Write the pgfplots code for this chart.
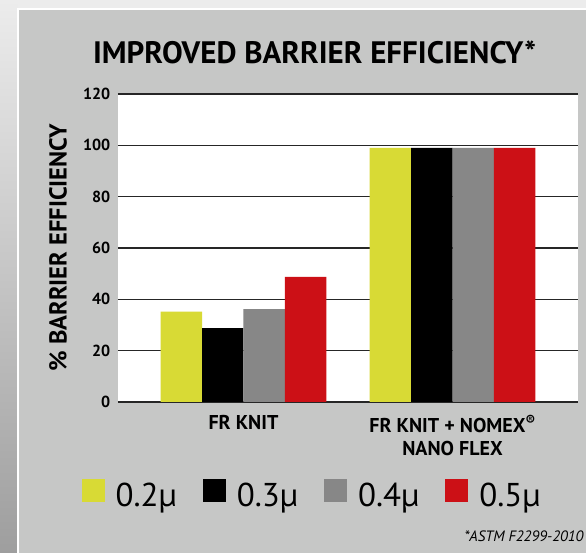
\documentclass[border=0pt]{standalone}
\usepackage{pgfplots}
\pgfplotsset{compat=1.18}
\usepackage{fontspec}
\setmainfont{PT Sans}
\newfontfamily\condfont{PT Sans}
\definecolor{cyel}{HTML}{D8DA35}
\definecolor{cblk}{HTML}{000000}
\definecolor{cgry}{HTML}{878787}
\definecolor{cred}{HTML}{CC1016}
\definecolor{panel}{HTML}{C6C7C6}
\definecolor{outer}{HTML}{ECECEC}
\definecolor{gridc}{HTML}{262626}
\begin{document}
\begin{tikzpicture}
\useasboundingbox (0pt,0pt) rectangle (586pt,553pt);
\fill[outer] (0pt,0pt) rectangle (586pt,553pt);
\shade[top color=outer, bottom color=black!38] (0pt,0pt) rectangle (17pt,553pt);
\fill[panel] (17pt,0pt) rectangle (586pt,545pt);
\draw[white, line width=2pt] (18pt,0pt) -- (18pt,544pt) -- (586pt,544pt);
\node[anchor=base, font=\condfont\bfseries\fontsize{31}{31}\selectfont] at (314.5pt,489pt) {IMPROVED BARRIER EFFICIENCY*};
\node[anchor=base east, font=\condfont\itshape\fontsize{15}{15}\selectfont] at (587pt,11.5pt) {*ASTM F2299-2010};
\begin{axis}[
  at={(118pt,151pt)}, anchor=south west,
  width=460pt, height=308pt, scale only axis,
  axis background/.style={fill=white},
  ybar=0pt, bar width=0.198,
  xmin=-0.6, xmax=1.6, ymin=0, ymax=120,
  ytick={0,20,40,60,80,100,120},
  xtick={0,1},
  xticklabels={FR KNIT, {FR KNIT + NOMEX\textsuperscript{®}\\NANO FLEX}},
  ymajorgrids,
  grid style={color=gridc, line width=1.1pt},
  axis line style={draw=none},
  tick style={draw=none},
  major tick length=0pt,
  /pgf/number format/assume math mode=true,
  yticklabel style={font=\condfont\bfseries\fontsize{16}{16}\selectfont, inner sep=0pt, xshift=-7.5pt},
  xticklabel style={font=\condfont\bfseries\fontsize{20}{23}\selectfont, align=center, inner sep=0pt, anchor=north, yshift=-13pt},
  ylabel={\% BARRIER EFFICIENCY},
  ylabel style={font=\condfont\bfseries\fontsize{24.5}{24.5}\selectfont, at={(axis description cs:-0.1304,0.5)}, anchor=center},
  legend columns=4,
  legend style={at={(axis description cs:0.42,-0.297)}, anchor=center, draw=none, fill=none,
    font=\fontsize{33}{33}\selectfont, inner sep=0pt, nodes={inner sep=0pt},
    /tikz/every odd column/.append style={column sep=11pt},
    /tikz/every even column/.append style={column sep=26pt}},
  legend image code/.code={\fill[#1] (0pt,-6.5pt) rectangle (23pt,16.5pt);},
]
\addplot[fill=cyel, draw=none] coordinates {(0,35.2) (1,99)};
\addplot[fill=cblk, draw=none] coordinates {(0,28.8) (1,99)};
\addplot[fill=cgry, draw=none] coordinates {(0,36.2) (1,99)};
\addplot[fill=cred, draw=none] coordinates {(0,48.7) (1,99)};
\legend{0.2µ,0.3µ,0.4µ,0.5µ}
\end{axis}
\end{tikzpicture}
\end{document}
